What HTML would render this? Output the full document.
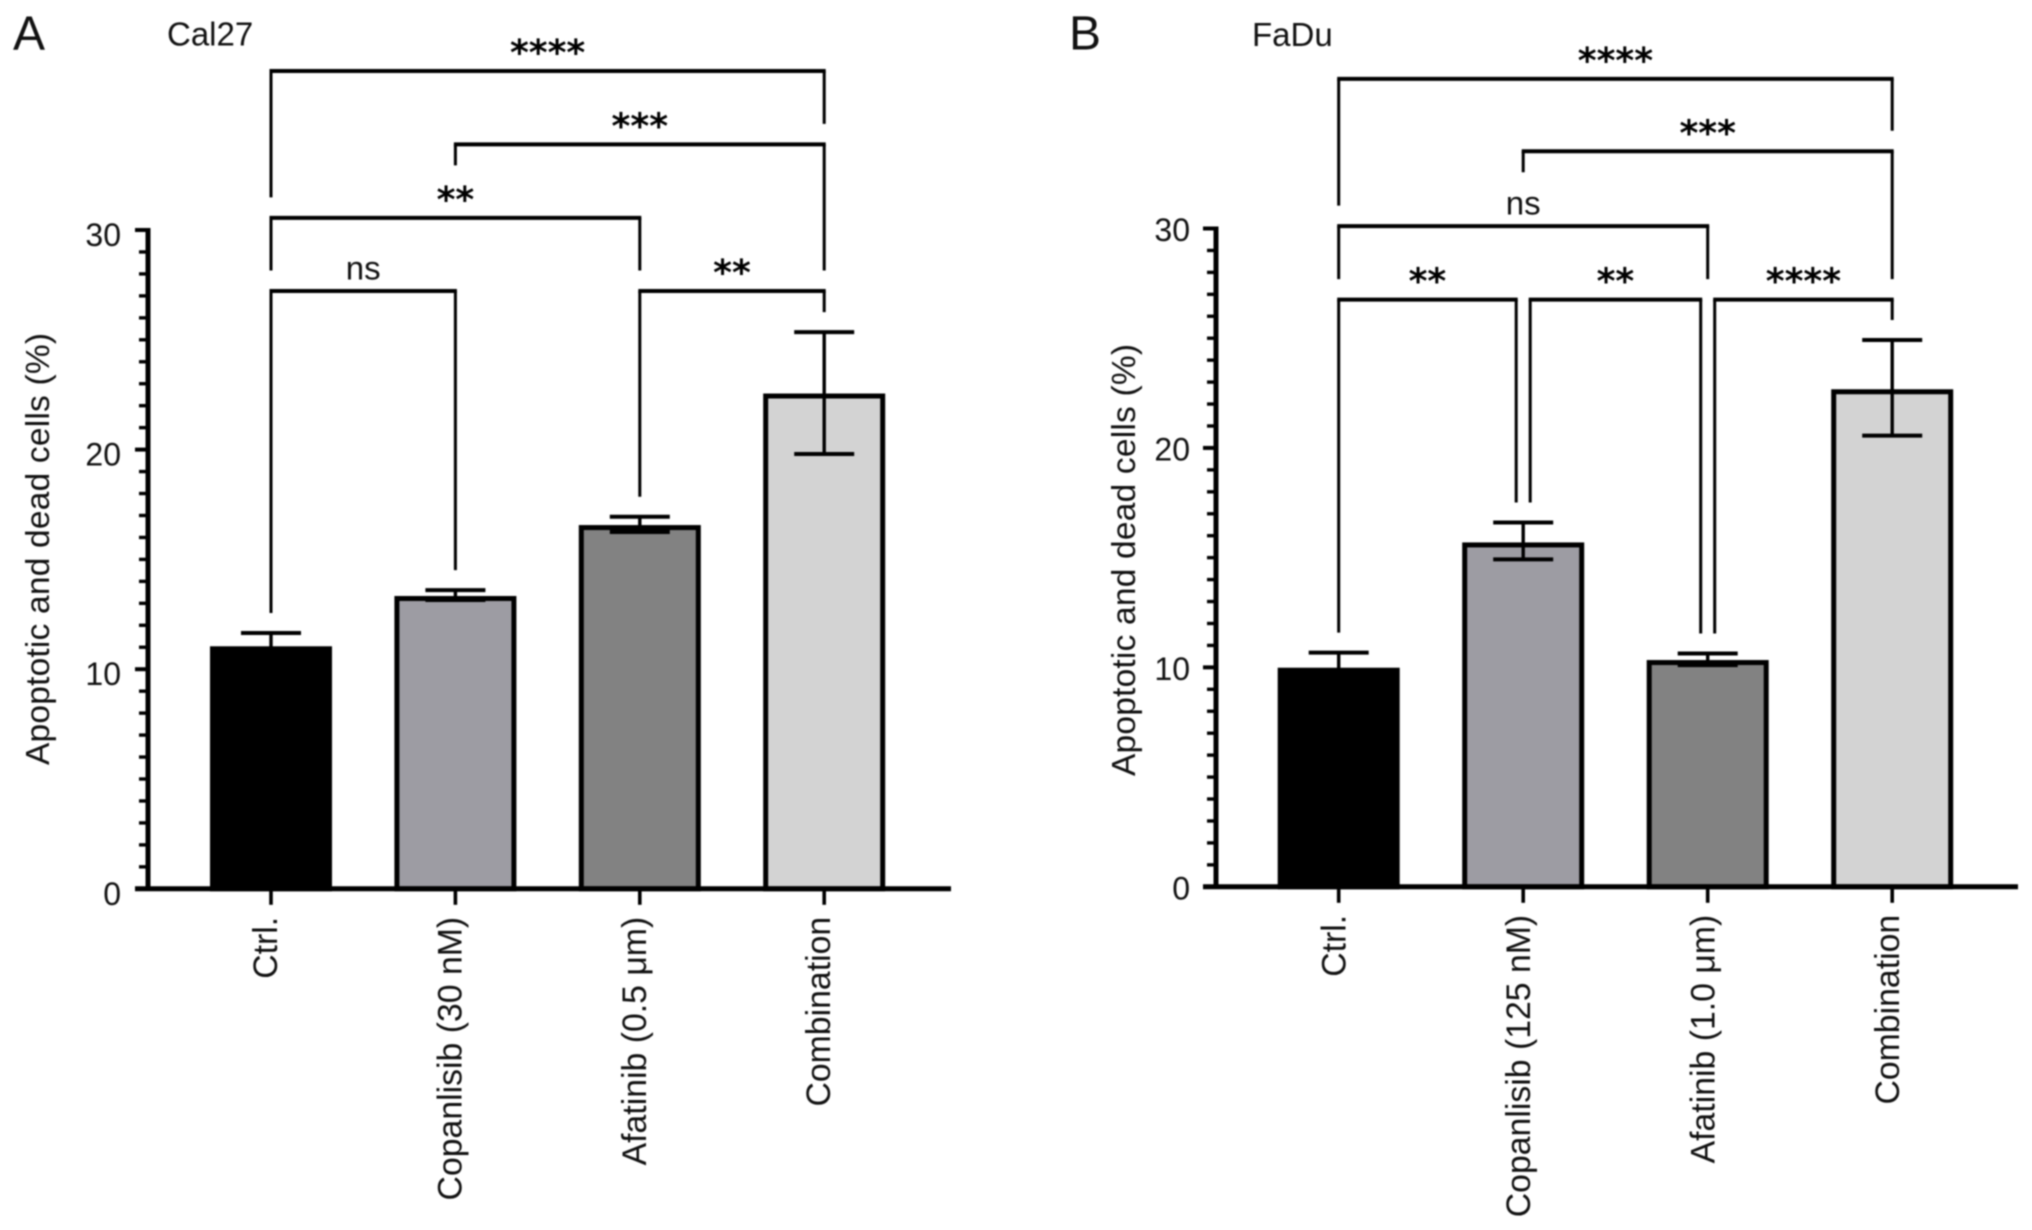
<!DOCTYPE html>
<html lang="en">
<head>
<meta charset="utf-8">
<title>Apoptotic and dead cells: Cal27 and FaDu</title>
<style>
  html, body { margin: 0; padding: 0; background: #fff; }
  #figure { display: block; width: 2032px; height: 1230px; filter: blur(0.8px); }
  text { font-family: "Liberation Sans", "DejaVu Sans", sans-serif; fill: #111; }
  .stars { font-family: "DejaVu Sans", "Liberation Sans", sans-serif; font-weight: bold; font-size: 36px; fill: #000; }
</style>
</head>
<body>
<svg id="figure" xmlns="http://www.w3.org/2000/svg" width="2032" height="1230" viewBox="0 0 2032 1230">
  <rect x="0" y="0" width="2032" height="1230" fill="#fff"/>
  <g id="panel-a">
    <text x="13" y="49.5" font-size="48">A</text>
    <text x="167" y="45.5" font-size="33">Cal27</text>
    <text transform="translate(49 549) rotate(-90)" text-anchor="middle" font-size="33.5" textLength="432">Apoptotic and dead cells (%)</text>
  </g>
  <g id="panel-b">
    <text x="1069" y="49.5" font-size="48">B</text>
    <text x="1252" y="46" font-size="33">FaDu</text>
    <text transform="translate(1135 560) rotate(-90)" text-anchor="middle" font-size="33.5" textLength="432">Apoptotic and dead cells (%)</text>
  </g>
</svg>
<script>
// ---- Data ----
const yTickLabels = [0, 10, 20, 30];
const barFills = ['#000000', '#9d9ca3', '#828282', '#d3d3d3'];

const categoriesA = ['Ctrl.', 'Copanlisib (30 nM)', 'Afatinib (0.5 \u03bcm)', 'Combination'];
const valuesA = [10.93, 13.22, 16.45, 22.44];
const errorUpperA = [11.65, 13.6, 16.94, 25.35];
const errorLowerA = [10.4, 13.15, 16.25, 19.8];
const bracketLevelsA = [27.22, 30.55, 33.9, 37.24];

const categoriesB = ['Ctrl.', 'Copanlisib (125 nM)', 'Afatinib (1.0 \u03bcm)', 'Combination'];
const valuesB = [9.87, 15.58, 10.22, 22.56];
const errorUpperB = [10.67, 16.6, 10.63, 24.92];
const errorLowerB = [9.3, 14.92, 10.1, 20.56];
const bracketLevelsB = [26.76, 30.11, 33.52, 36.82];

// Comparison brackets: category indices, level index, significance label, and what each leg rests on.
// A rest of 'bar' stops above that bar's error cap, 'stub' is a short leg, a number stops above that bracket level.
const bracketsA = [
  { label: '****', from: 0, to: 3, level: 3, fromRest: 1, toRest: 2 },
  { label: '***',  from: 1, to: 3, level: 2, fromRest: 'stub', toRest: 0 },
  { label: '**',   from: 0, to: 2, level: 1, fromRest: 0, toRest: 0 },
  { label: 'ns',   from: 0, to: 1, level: 0, fromRest: 'bar', toRest: 'bar' },
  { label: '**',   from: 2, to: 3, level: 0, fromRest: 'bar', toRest: 'bar' }
];
const bracketsB = [
  { label: '****', from: 0, to: 3, level: 3, fromRest: 1, toRest: 2 },
  { label: '***',  from: 1, to: 3, level: 2, fromRest: 'stub', toRest: 0 },
  { label: 'ns',   from: 0, to: 2, level: 1, fromRest: 0, toRest: 0 },
  { label: '**',   from: 0, to: 1, level: 0, fromRest: 'bar', toRest: 'bar', toNudge: -1 },
  { label: '**',   from: 1, to: 2, level: 0, fromRest: 'bar', toRest: 'bar', fromNudge: 1, toNudge: -1 },
  { label: '****', from: 2, to: 3, level: 0, fromRest: 'bar', toRest: 'bar', fromNudge: 1 }
];

// ---- Drawing ----
const NS = 'http://www.w3.org/2000/svg';
function make(parent, tag, attrs) {
  const el = document.createElementNS(NS, tag);
  for (const k in attrs) el.setAttribute(k, attrs[k]);
  parent.appendChild(el);
  return el;
}
function slug(s) {
  return String(s).toLowerCase().replace(/[^a-z0-9]+/g, '-').replace(/^-|-$/g, '');
}

function drawPanel(rootId, prefix, geom, categories, values, errUp, errLow, levels, brackets) {
  const root = document.getElementById(rootId);
  const yScale = v => geom.baseY - (geom.baseY - geom.topY) * v / 30;
  const xScale = i => geom.firstX + geom.stepX * i;
  const barHalf = 58.5;

  // bars
  categories.forEach((cat, i) => {
    const top = yScale(values[i]);
    const bar = make(root, 'rect', {
      x: xScale(i) - barHalf, y: top,
      width: barHalf * 2, height: geom.baseY - top,
      fill: barFills[i], stroke: '#000', 'stroke-width': 5
    });
    
    
  });

  // error bars
  categories.forEach((cat, i) => {
    const g = make(root, 'g', { stroke: '#000', fill: 'none' });
    
    
    const cx = xScale(i), up = yScale(errUp[i]), low = yScale(errLow[i]);
    make(g, 'line', { x1: cx, x2: cx, y1: up, y2: low, 'stroke-width': 3.4 });
    make(g, 'line', { x1: cx - 30, x2: cx + 30, y1: up, y2: up, 'stroke-width': 4 });
    make(g, 'line', { x1: cx - 30, x2: cx + 30, y1: low, y2: low, 'stroke-width': 4 });
  });

  // y axis with minor ticks
  const yAxis = make(root, 'g', { stroke: '#000', fill: 'none' });
  
  
  make(yAxis, 'line', { x1: geom.axisX, x2: geom.axisX, y1: yScale(30) - 2, y2: geom.baseY, 'stroke-width': 5 });
  const maxTick = yTickLabels[yTickLabels.length - 1];
  for (let v = 0; v <= maxTick; v++) {
    const major = yTickLabels.includes(v);
    make(yAxis, 'line', {
      x1: geom.axisX - (major ? 13 : 9), x2: geom.axisX,
      y1: yScale(v), y2: yScale(v),
      'stroke-width': major ? 4 : 3.4
    });
  }
  yTickLabels.forEach(t => {
    const label = make(root, 'text', {
      x: geom.axisX - geom.labelGap, y: yScale(t) + geom.labelDrop,
      'text-anchor': 'end', 'font-size': 32
    });
    
    
    label.textContent = t;
  });

  // x axis
  const xAxis = make(root, 'g', { stroke: '#000', fill: 'none' });
  
  
  make(xAxis, 'line', { x1: geom.axisX - 13, x2: geom.axisEnd, y1: geom.baseY, y2: geom.baseY, 'stroke-width': 5 });
  categories.forEach((cat, i) => {
    make(xAxis, 'line', { x1: xScale(i), x2: xScale(i), y1: geom.baseY, y2: geom.baseY + 16, 'stroke-width': 3.6 });
    const label = make(root, 'text', {
      transform: 'translate(' + (xScale(i) + geom.catDrop) + ' ' + (geom.baseY + 28) + ') rotate(-90)',
      'text-anchor': 'end', 'font-size': 33.8
    });
    
    
    label.textContent = cat;
  });

  // significance brackets
  brackets.forEach((b, k) => {
    const g = make(root, 'g', {});
    
    
    const yTop = yScale(levels[b.level]);
    const nudge = 7;
    const x1 = xScale(b.from) + (b.fromNudge || 0) * nudge;
    const x2 = xScale(b.to) + (b.toNudge || 0) * nudge;
    const legEnd = (rest, idx) => rest === 'bar' ? yScale(errUp[idx]) - 20
      : rest === 'stub' ? yTop + 21
      : yScale(levels[rest]) - 20.5;
    make(g, 'path', {
      d: 'M' + x1 + ' ' + legEnd(b.fromRest, b.from) + 'V' + yTop + 'M' + x2 + ' ' + yTop + 'V' + legEnd(b.toRest, b.to),
      fill: 'none', stroke: '#000', 'stroke-width': 3
    });
    make(g, 'line', { x1: x1 - 1.5, x2: x2 + 1.5, y1: yTop, y2: yTop, stroke: '#000', 'stroke-width': 4 });
    const isStars = b.label !== 'ns';
    const t = make(g, 'text', {
      x: (x1 + x2) / 2,
      y: isStars ? yTop - 6 : yTop - 11.5,
      'text-anchor': 'middle',
      'font-size': 33
    });
    if (isStars) t.setAttribute('class', 'stars');
    t.textContent = b.label;
  });
}

drawPanel('panel-a', 'panel-a',
  { axisX: 148, baseY: 888.8, topY: 230, firstX: 271, stepX: 184.4, axisEnd: 951, labelGap: 27, labelDrop: 16, catDrop: 6 },
  categoriesA, valuesA, errorUpperA, errorLowerA, bracketLevelsA, bracketsA);
drawPanel('panel-b', 'panel-b',
  { axisX: 1216, baseY: 886.8, topY: 228.5, firstX: 1338.7, stepX: 184.5, axisEnd: 2018, labelGap: 26, labelDrop: 12.5, catDrop: 7 },
  categoriesB, valuesB, errorUpperB, errorLowerB, bracketLevelsB, bracketsB);
</script>
</body>
</html>
